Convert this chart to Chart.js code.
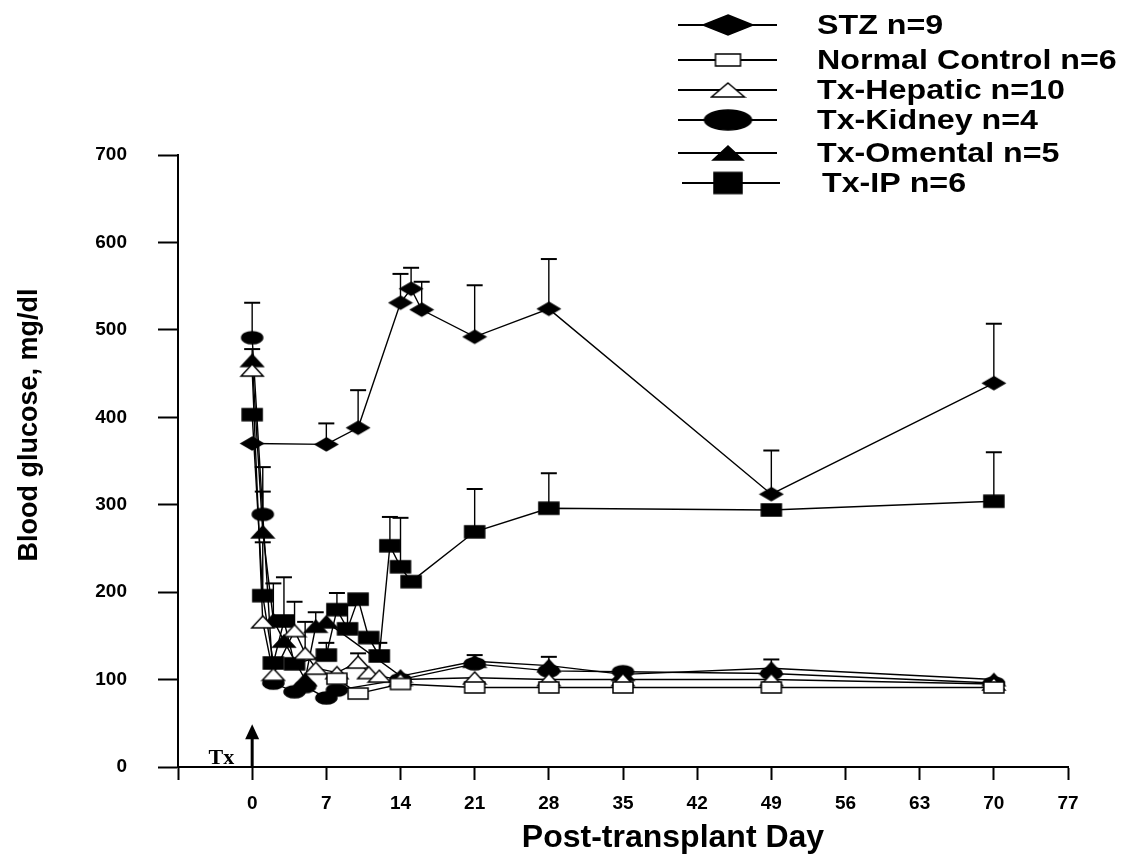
<!DOCTYPE html>
<html>
<head>
<meta charset="utf-8">
<script src="https://cdn.jsdelivr.net/npm/chart.js@4.4.0/dist/chart.umd.min.js"></script>
<style>
  html, body { margin: 0; padding: 0; background: #fff; }
</style>
</head>
<body>
<canvas id="canvas1" width="1124" height="862"></canvas>
<script>
// ---- data (mean, and upper SEM bar length) ----
let stzDays = [0, 7, 10, 14, 15, 16, 21, 28, 49, 70];
let stzMean = [370, 369, 388, 531, 547, 523, 492, 524, 312, 439];
let stzErr = [0, 24, 43, 33, 24, 32, 59, 57, 50, 68];

let controlDays = [8, 10, 14, 21, 28, 35, 49, 70];
let controlMean = [101, 84, 95, 91, 91, 91, 91, 91];
let controlErr = [0, 0, 0, 0, 0, 0, 0, 0];

let hepaticDays = [0, 1, 2, 4, 5, 6, 8, 10, 11, 12, 14, 21, 28, 35, 49, 70];
let hepaticMean = [454, 166, 106, 156, 130, 113, 108, 120, 108, 104, 100, 102, 100, 100, 100, 95];
let hepaticErr = [0, 0, 0, 33, 36, 0, 0, 10, 0, 0, 0, 0, 0, 0, 0, 0];

let kidneyDays = [0, 1, 2, 4, 5, 7, 8, 14, 21, 28, 35, 49, 70];
let kidneyMean = [491, 289, 96, 86, 92, 79, 88, 100, 118, 110, 109, 107, 96];
let kidneyErr = [40, 54, 0, 0, 0, 0, 0, 0, 0, 0, 0, 0, 0];

let omentalDays = [0, 1, 2, 3, 5, 6, 7, 14, 21, 28, 35, 49, 70];
let omentalMean = [465, 269, 168, 144, 100, 161, 166, 104, 121, 116, 106, 113, 100];
let omentalErr = [13, 46, 42, 0, 0, 16, 0, 0, 7, 10, 0, 10, 0];

let ipDays = [0, 1, 2, 3, 4, 7, 8, 9, 10, 11, 12, 13, 14, 15, 21, 28, 49, 70];
let ipMean = [403, 196, 119, 167, 118, 128, 180, 158, 192, 148, 127, 253, 229, 212, 269, 296, 294, 304];
let ipErr = [0, 61, 0, 50, 0, 14, 19, 27, 0, 0, 15, 33, 56, 0, 49, 40, 0, 56];

let seriesLabels = ["STZ n=9", "Normal Control n=6", "Tx-Hepatic n=10", "Tx-Kidney n=4", "Tx-Omental n=5", "Tx-IP n=6"];
let xTicks = [-7, 0, 7, 14, 21, 28, 35, 42, 49, 56, 63, 70, 77];
let yTicks = [0, 100, 200, 300, 400, 500, 600, 700];

// ---- marker images ----
function makeMarker(kind, w, h, filled) {
  let c = document.createElement("canvas");
  c.width = w + 4;
  c.height = h + 4;
  let g = c.getContext("2d");
  g.translate(2, 2);
  g.beginPath();
  if (kind == "diamond") {
    g.moveTo(w / 2, 0);
    g.lineTo(w, h / 2);
    g.lineTo(w / 2, h);
    g.lineTo(0, h / 2);
    g.closePath();
  } else if (kind == "tri") {
    g.moveTo(w / 2, 0);
    g.lineTo(w, h);
    g.lineTo(0, h);
    g.closePath();
  } else if (kind == "ellipse") {
    g.ellipse(w / 2, h / 2, w / 2, h / 2, 0, 0, Math.PI * 2);
  } else {
    g.rect(0, 0, w, h);
  }
  g.fillStyle = filled ? "#000" : "#fff";
  g.fill();
  g.lineWidth = 1.5;
  g.strokeStyle = "#000";
  g.stroke();
  return c;
}

let markers = [
  makeMarker("diamond", 22, 13, true),
  makeMarker("rect", 20, 11, false),
  makeMarker("tri", 22, 12, false),
  makeMarker("ellipse", 21, 12, true),
  makeMarker("tri", 22, 12, true),
  makeMarker("rect", 20, 12, true),
];
let legendMarkers = [
  makeMarker("diamond", 50, 20, true),
  makeMarker("rect", 25, 12, false),
  makeMarker("tri", 33, 14, false),
  makeMarker("ellipse", 47, 20, true),
  makeMarker("tri", 30, 14, true),
  makeMarker("rect", 28, 21, true),
];

function points(days, mean) {
  return days.map((d, i) => ({ x: d, y: mean[i] }));
}

let allDays = [stzDays, controlDays, hepaticDays, kidneyDays, omentalDays, ipDays];
let allMean = [stzMean, controlMean, hepaticMean, kidneyMean, omentalMean, ipMean];
let allErr = [stzErr, controlErr, hepaticErr, kidneyErr, omentalErr, ipErr];

let datasets = seriesLabels.map((label, i) => ({
  label: label,
  data: points(allDays[i], allMean[i]),
  errors: allErr[i],
  borderColor: "#000",
  borderWidth: 1.4,
  pointStyle: markers[i],
  pointRadius: 6,
  tension: 0,
  clip: false,
}));

const FONT = "'Liberation Sans', Arial, sans-serif";

// upward SEM bars, drawn before the markers
let errorBars = {
  id: "errorBars",
  beforeDatasetsDraw(chart) {
    let ctx = chart.ctx;
    let xs = chart.scales.x;
    let ys = chart.scales.y;
    ctx.save();
    ctx.strokeStyle = "#000";
    chart.data.datasets.forEach((ds) => {
      ds.data.forEach((p, i) => {
        let e = ds.errors[i];
        if (!e) return;
        let px = xs.getPixelForValue(p.x);
        let y0 = ys.getPixelForValue(p.y);
        let y1 = ys.getPixelForValue(p.y + e);
        ctx.lineWidth = 1.4;
        ctx.beginPath();
        ctx.moveTo(px, y0);
        ctx.lineTo(px, y1);
        ctx.stroke();
        ctx.lineWidth = 2;
        ctx.beginPath();
        ctx.moveTo(px - 8, y1);
        ctx.lineTo(px + 8, y1);
        ctx.stroke();
      });
    });
    ctx.restore();
  },
};

// stretched text, the figure's lettering is a little wider than the font
function wideText(ctx, text, x, y, sx) {
  ctx.save();
  ctx.translate(x, y);
  ctx.scale(sx, 1);
  ctx.fillText(text, 0, 0);
  ctx.restore();
}

// legend, axis titles and the Tx arrow
let decorations = {
  id: "decorations",
  afterDraw(chart) {
    let ctx = chart.ctx;
    let xs = chart.scales.x;
    let ys = chart.scales.y;
    ctx.save();

    // Tx arrow at day 0
    let ax = xs.getPixelForValue(0);
    let ay0 = ys.getPixelForValue(0);
    let ay1 = ys.getPixelForValue(49);
    ctx.strokeStyle = "#000";
    ctx.fillStyle = "#000";
    ctx.lineWidth = 3;
    ctx.beginPath();
    ctx.moveTo(ax, ay0);
    ctx.lineTo(ax, ay1 + 12);
    ctx.stroke();
    ctx.beginPath();
    ctx.moveTo(ax, ay1);
    ctx.lineTo(ax + 7, ay1 + 15);
    ctx.lineTo(ax - 7, ay1 + 15);
    ctx.closePath();
    ctx.fill();
    ctx.font = "bold 22px 'Liberation Serif', 'Times New Roman', serif";
    ctx.textAlign = "right";
    ctx.textBaseline = "alphabetic";
    ctx.fillText("Tx", ax - 18, ay0 - 3);

    // axis titles
    ctx.font = "bold 32px " + FONT;
    ctx.textAlign = "center";
    ctx.textBaseline = "middle";
    ctx.fillText("Post-transplant Day", 673, 838);
    ctx.save();
    ctx.translate(30, 425);
    ctx.rotate(-Math.PI / 2);
    ctx.font = "bold 27px " + FONT;
    ctx.fillText("Blood glucose, mg/dl", 0, 0);
    ctx.restore();

    // legend
    let rows = [25, 60, 90, 120, 153, 183];
    ctx.font = "bold 28px " + FONT;
    ctx.textAlign = "left";
    ctx.textBaseline = "middle";
    seriesLabels.forEach((label, i) => {
      let y = rows[i];
      ctx.lineWidth = 2;
      ctx.beginPath();
      ctx.moveTo(i == 5 ? 682 : 678, y);
      ctx.lineTo(i == 5 ? 780 : 777, y);
      ctx.stroke();
      let m = legendMarkers[i];
      ctx.drawImage(m, 728 - m.width / 2, y - m.height / 2);
      wideText(ctx, label, i == 5 ? 822 : 817, y + 1, 1.15);
    });
    ctx.restore();
  },
};

let config1 = {
  type: "line",
  data: { datasets: datasets },
  options: {
    responsive: false,
    animation: false,
    events: [],
    layout: { padding: { left: 0, right: 56, top: 155, bottom: 0 } },
    plugins: { legend: { display: false }, tooltip: { enabled: false } },
    scales: {
      x: {
        type: "linear",
        min: -7,
        max: 77,
        afterBuildTicks: (s) => {
          s.ticks = xTicks.map((v) => ({ value: v }));
        },
        afterFit: (s) => {
          s.height = 95;
        },
        ticks: {
          color: "#000",
          font: { family: FONT, size: 19, weight: "bold" },
          padding: 12,
          maxRotation: 0,
          autoSkip: false,
          callback: (v) => (v < 0 ? "" : v),
        },
        grid: { drawOnChartArea: false, tickLength: 13, tickWidth: 2, tickColor: "#000" },
        border: { color: "#000", width: 2 },
      },
      y: {
        type: "linear",
        min: 0,
        max: 700,
        afterBuildTicks: (s) => {
          s.ticks = yTicks.map((v) => ({ value: v }));
        },
        afterFit: (s) => {
          s.width = 178;
        },
        ticks: {
          color: "#000",
          font: { family: FONT, size: 19, weight: "bold" },
          padding: 31,
        },
        grid: { drawOnChartArea: false, tickLength: 20, tickWidth: 2, tickColor: "#000" },
        border: { color: "#000", width: 2 },
      },
    },
  },
  plugins: [errorBars, decorations],
};

let chart1 = new Chart(document.getElementById("canvas1").getContext("2d"), config1);
</script>
</body>
</html>
